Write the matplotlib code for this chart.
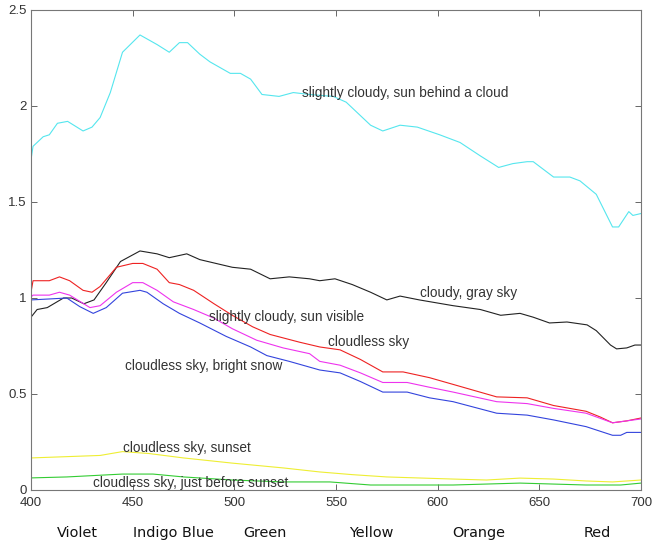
import matplotlib
matplotlib.use("Agg")
import matplotlib.pyplot as plt

# values (wavelength nm, relative intensity)
cyan_x = [400, 401, 406, 409, 413, 418, 425.6, 430, 434, 439, 445, 453.6, 462, 468, 473, 477, 483,
          488, 493, 498, 503, 508, 513.6, 522, 529, 537, 548.6, 555, 567, 573, 581.5, 590, 601, 611,
          621, 630, 637, 644, 647, 657, 665, 670, 678, 686, 689, 694, 696, 700]
cyan_y = [1.72, 1.79, 1.84, 1.85, 1.91, 1.92, 1.87, 1.89, 1.94, 2.07, 2.28, 2.37, 2.32, 2.28, 2.33, 2.33, 2.27,
          2.23, 2.20, 2.17, 2.17, 2.14, 2.06, 2.05, 2.07, 2.06, 2.05, 2.02, 1.90, 1.87, 1.90, 1.89, 1.85, 1.81,
          1.74, 1.68, 1.70, 1.71, 1.71, 1.63, 1.63, 1.61, 1.54, 1.37, 1.37, 1.45, 1.43, 1.44]

black_x = [400, 403, 408, 416, 420, 426, 431, 437, 444, 453.6, 462, 468, 476.6, 483, 491, 499, 508,
           517.6, 527, 537, 542, 549.5, 558, 567, 575, 581.5, 591, 607.6, 621, 631, 640.5, 647, 655,
           663.6, 673.5, 678, 685, 688, 693, 697, 700]
black_y = [0.90, 0.94, 0.95, 1.00, 1.00, 0.97, 0.99, 1.08, 1.19, 1.245, 1.23, 1.21, 1.23, 1.20, 1.18, 1.16, 1.15,
           1.10, 1.11, 1.10, 1.09, 1.10, 1.07, 1.03, 0.99, 1.01, 0.99, 0.96, 0.94, 0.91, 0.92, 0.90, 0.87,
           0.875, 0.86, 0.83, 0.755, 0.735, 0.74, 0.755, 0.755]

red_x = [400, 401, 409, 414, 419, 425.6, 430, 434, 442, 450, 455, 462, 468, 473, 480, 490, 499, 509,
         517.6, 532, 542, 552, 562, 573, 583, 596, 607.6, 629, 644, 657, 673, 680, 686, 693, 700]
red_y = [1.03, 1.09, 1.09, 1.11, 1.09, 1.04, 1.03, 1.06, 1.16, 1.18, 1.18, 1.15, 1.08, 1.07, 1.04, 0.97, 0.91, 0.85,
         0.81, 0.77, 0.745, 0.73, 0.68, 0.615, 0.615, 0.585, 0.55, 0.485, 0.48, 0.44, 0.41, 0.38, 0.35, 0.36, 0.375]

magenta_x = [400, 401, 409, 414, 419, 429, 434, 442, 450, 455, 462, 470, 480, 490, 499, 511, 524, 537,
             542, 552, 562, 573, 585, 596, 607.6, 629, 644, 657, 673, 686, 700]
magenta_y = [1.005, 1.015, 1.015, 1.03, 1.015, 0.95, 0.96, 1.03, 1.08, 1.08, 1.04, 0.98, 0.94, 0.895, 0.84, 0.78, 0.74, 0.71,
             0.67, 0.65, 0.61, 0.56, 0.56, 0.535, 0.51, 0.46, 0.45, 0.425, 0.40, 0.35, 0.37]

blue_x = [400, 409, 417.6, 424, 430.6, 437, 445, 453.6, 457, 465, 473, 483, 496, 508, 516, 527, 542,
          552, 562, 573, 585, 596, 607.6, 629, 644, 657, 673, 686, 690, 693, 700]
blue_y = [0.99, 0.995, 1.00, 0.955, 0.92, 0.95, 1.025, 1.04, 1.03, 0.97, 0.92, 0.87, 0.80, 0.745, 0.70, 0.67, 0.625,
          0.61, 0.565, 0.51, 0.51, 0.48, 0.46, 0.40, 0.39, 0.365, 0.33, 0.285, 0.285, 0.30, 0.30]

yellow_x = [400, 434, 445, 458, 475, 499, 524, 542, 558, 575, 607.6, 624, 640.5, 657, 673, 686, 700]
yellow_y = [0.167, 0.18, 0.20, 0.19, 0.167, 0.14, 0.115, 0.094, 0.08, 0.068, 0.057, 0.052, 0.062, 0.057, 0.047, 0.042, 0.052]

green_x = [400, 417.6, 445, 460, 475, 499, 524, 547, 567, 607.6, 640.5, 673, 690, 700]
green_y = [0.063, 0.068, 0.083, 0.083, 0.068, 0.052, 0.042, 0.042, 0.026, 0.026, 0.036, 0.026, 0.026, 0.036]

labels = ["slightly cloudy, sun behind a cloud", "cloudy, gray sky", "slightly cloudy, sun visible",
          "cloudless sky", "cloudless sky, bright snow", "cloudless sky, sunset",
          "cloudless sky, just before sunset"]
label_x = [533.3, 591.3, 487.6, 546, 446, 445, 430.5]
label_y = [2.07, 1.026, 0.90, 0.77, 0.646, 0.218, 0.036]

colour_names = ["Violet", "Indigo Blue", "Green", "Yellow", "Orange", "Red"]
colour_x = [422.6, 470, 515, 567.5, 620, 678.6]

fig = plt.figure(figsize=(6.53, 5.5), dpi=100)
ax = fig.add_axes([31/653, 60/550, 610/653, 480/550])

lw = 0.8
ax.plot(cyan_x, cyan_y, color="#55e6ee", lw=lw)
ax.plot(black_x, black_y, color="#222222", lw=lw)
ax.plot(red_x, red_y, color="#ee2222", lw=lw)
ax.plot(magenta_x, magenta_y, color="#ee33ee", lw=lw)
ax.plot(blue_x, blue_y, color="#3344dd", lw=lw)
ax.plot(yellow_x, yellow_y, color="#eeee33", lw=lw)
ax.plot(green_x, green_y, color="#33cc33", lw=lw)

for t, x, y in zip(labels, label_x, label_y):
    ax.text(x, y, t, fontsize=9.8, family="Liberation Sans", color="#333333", va="center", ha="left")

for t, x in zip(colour_names, colour_x):
    ax.text(x, -0.224, t, fontsize=10.4, family="DejaVu Sans", color="#111111", ha="center", va="center")

ax.set_xlim(400, 700)
ax.set_ylim(0, 2.5)
ax.set_xticks([400, 450, 500, 550, 600, 650, 700])
ax.set_yticks([0, 0.5, 1, 1.5, 2, 2.5])
ax.set_yticklabels(["0", "0.5", "1", "1.5", "2", "2.5"])
ax.tick_params(direction="in", top=True, right=True, length=4, width=0.7, color="#666666",
               labelsize=9.5, labelcolor="#333333")
ax.tick_params(axis="x", pad=5)
ax.tick_params(axis="y", pad=3)
for lab in ax.get_xticklabels() + ax.get_yticklabels():
    lab.set_family("Liberation Sans")
for s in ax.spines.values():
    s.set_color("#777777")
    s.set_linewidth(0.8)

fig.savefig("out.png", dpi=100)
